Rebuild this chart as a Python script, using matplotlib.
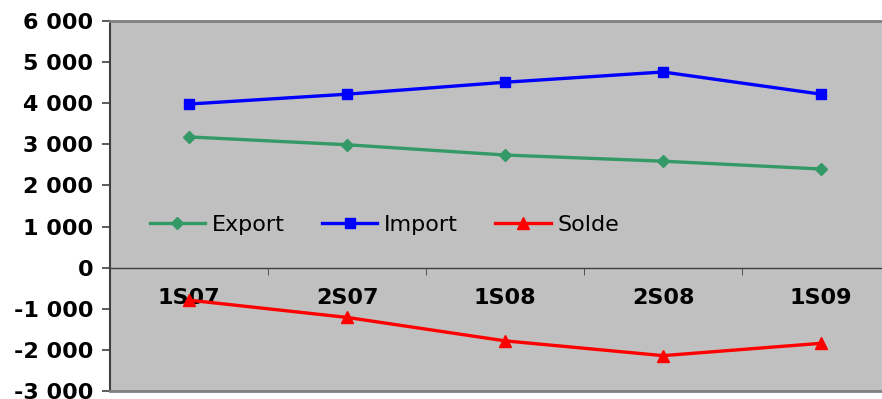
import matplotlib
matplotlib.use("Agg")
import matplotlib.pyplot as plt
from matplotlib.ticker import FuncFormatter, FixedLocator

categories = ["1S07", "2S07", "1S08", "2S08", "1S09"]
export = [3180, 2990, 2740, 2590, 2400]
imports = [3980, 4220, 4510, 4760, 4220]
solde = [-790, -1210, -1780, -2140, -1840]

fig = plt.figure(figsize=(8.82, 3.99), dpi=100)
fig.patch.set_facecolor("white")
ax = fig.add_axes([110 / 882, 8 / 399, 790 / 882, 370 / 399])
ax.set_facecolor("#C0C0C0")

x = list(range(len(categories)))
ax.plot(x, export, color="#339966", lw=2.4, marker="D", ms=6.5, label="Export", zorder=3)
ax.plot(x, imports, color="#0000FF", lw=2.4, marker="s", ms=7, label="Import", zorder=3)
ax.plot(x, solde, color="#FF0000", lw=2.4, marker="^", ms=8, label="Solde", zorder=3)

ax.set_xlim(-0.5, len(categories) - 0.5)
ax.set_ylim(-3000, 6000)
ax.set_yticks(range(-3000, 6001, 1000))
ax.yaxis.set_major_formatter(FuncFormatter(lambda v, p: f"{v:,.0f}".replace(",", " ")))

# category axis crosses at zero; labels under the line, ticks between categories
ax.spines["bottom"].set_position(("data", 0))
ax.spines["bottom"].set_color("#404040")
ax.spines["bottom"].set_linewidth(1.0)
ax.set_xticks(x)
ax.set_xticklabels(categories, fontsize=16, fontweight="bold")
ax.tick_params(axis="x", which="major", length=0, pad=15)
ax.xaxis.set_minor_locator(FixedLocator([i + 0.5 for i in range(len(categories) - 1)]))
ax.tick_params(axis="x", which="minor", length=5, direction="out", color="#404040")

ax.spines["left"].set_color("#404040")
ax.spines["left"].set_linewidth(1.5)
ax.tick_params(axis="y", length=6, width=1.2, color="#404040", labelsize=16, pad=6)
for t in ax.get_yticklabels():
    t.set_fontweight("bold")

# plot area border
for yv in (6000, -3000):
    ax.axhline(yv, color="#808080", lw=2, zorder=4, clip_on=False)
ax.spines["top"].set_visible(False)
ax.spines["right"].set_visible(False)

leg = ax.legend(loc="center left", bbox_to_anchor=(0.039, 0.449), ncol=3, frameon=False,
                prop={"size": 16}, handlelength=2.5, handletextpad=0.3, columnspacing=1.67,
                borderaxespad=0)

fig.savefig("out.png", dpi=100)
